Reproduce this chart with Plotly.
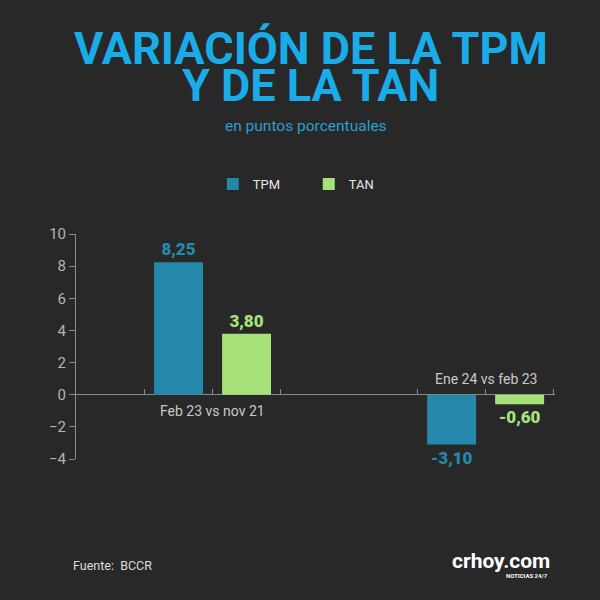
import plotly.graph_objects as go

# Data
categorias = ["Feb 23 vs nov 21", "Ene 24 vs feb 23"]
tpm = [8.25, -3.10]
tan = [3.80, -0.60]
y_ticks = [-4, -2, 0, 2, 4, 6, 8, 10]

BG = "#282828"
C_TPM = "#2588ab"
C_TAN = "#a6e17a"
TITLE_BLUE = "#19ace8"

fig = go.Figure()
fig.add_trace(go.Bar(
    name="TPM", x=categorias, y=tpm, marker_color=C_TPM, marker_line_width=0,
    texttemplate="%{y:.2f}", textposition="outside", cliponaxis=False,
    textfont=dict(family="Roboto", size=17, color=C_TPM, weight=900),
))
fig.add_trace(go.Bar(
    name="TAN", x=categorias, y=tan, marker_color=C_TAN, marker_line_width=0,
    texttemplate="%{y:.2f}", textposition="outside", cliponaxis=False,
    textfont=dict(family="Roboto", size=17, color=C_TAN, weight=900),
))

# category labels sit on the zero line, on the side opposite the bars
for cat, a, b in zip(categorias, tpm, tan):
    neg = max(a, b) < 0
    fig.add_annotation(
        x=cat, y=0, text=cat, showarrow=False,
        yanchor="bottom" if neg else "top", yshift=6 if neg else -6,
        font=dict(family="Roboto", size=14, color="#c8c8c8"),
    )

# invisible trace so the tick axis on the zero line gets drawn
fig.add_trace(go.Scatter(x=[0], y=[0], xaxis="x2", mode="markers",
                         marker=dict(opacity=0), showlegend=False, hoverinfo="skip"))

# title, two lines placed separately for tight leading
# (boxes trimmed to the empty descent / accent zone so they don't overlap)
title_font = dict(family="Roboto", size=45, color=TITLE_BLUE, weight=900)
fig.add_annotation(
    text="<b>VARIACIÓN DE LA TPM</b>", xref="paper", yref="paper",
    x=0.5, y=1, xanchor="center", yanchor="top", xshift=-5, yshift=213.5,
    showarrow=False, height=43, valign="top", borderpad=0, font=title_font,
)
fig.add_annotation(
    text="<b>Y DE LA TAN</b>", xref="paper", yref="paper",
    x=0.5, y=1, xanchor="center", yanchor="bottom", xshift=-5, yshift=121.5,
    showarrow=False, height=43, valign="bottom", borderpad=0, font=title_font,
)
fig.add_annotation(
    text="en puntos porcentuales", xref="paper", yref="paper",
    x=0.5, y=1, xanchor="center", yanchor="middle", xshift=-10, yshift=108,
    showarrow=False,
    font=dict(family="Roboto", size=15.5, color="#2a9fd2"),
)
fig.add_annotation(
    text="Fuente:  BCCR", xref="paper", yref="paper", x=0, y=0,
    xanchor="left", yanchor="middle", xshift=-5, yshift=-106, showarrow=False,
    font=dict(family="Roboto", size=12.5, color="#dddddd"),
)
fig.add_annotation(
    text="<b>crhoy.com</b>", xref="paper", yref="paper", x=1, y=0,
    xanchor="right", yanchor="middle", xshift=-3, yshift=-102, showarrow=False,
    font=dict(family="Roboto", size=21, color="#ffffff", weight=900),
)
fig.add_annotation(
    text="<b>NOTICIAS 24/7</b>", xref="paper", yref="paper", x=1, y=0,
    xanchor="right", yanchor="middle", xshift=-5, yshift=-116, showarrow=False,
    font=dict(family="Roboto", size=6, color="#ffffff"),
)

xr = [-0.5, 1.254]
fig.update_layout(
    width=600, height=600,
    paper_bgcolor=BG, plot_bgcolor=BG,
    margin=dict(l=76, r=45, t=234, b=141),
    barmode="group", bargap=0.502, bargroupgap=0.28,
    separators=",.",
    showlegend=True,
    legend=dict(orientation="h", x=0.486, xanchor="center",
                yref="container", y=1 - 184 / 600, yanchor="middle",
                entrywidth=51, traceorder="normal",
                font=dict(family="Roboto", size=13, color="#e6e6e6")),
    xaxis=dict(type="category", range=xr, showticklabels=False, showgrid=False,
               showline=False, zeroline=False, ticks=""),
    xaxis2=dict(overlaying="x", anchor="free", position=4 / 14, side="bottom",
                range=xr, tickmode="array",
                tickvals=[-0.249, 0, 0.249, 0.751, 1, 1.249],
                ticks="inside", ticklen=6, tickcolor="#8a8a8a",
                showticklabels=False, showgrid=False, showline=False, zeroline=False),
    yaxis=dict(range=[-4, 10], tickvals=y_ticks, showgrid=False,
               showline=True, linecolor="#8a8a8a", linewidth=1,
               ticks="outside", ticklen=6, tickcolor="#8a8a8a",
               zeroline=True, zerolinecolor="#8a8a8a", zerolinewidth=1,
               tickfont=dict(family="Roboto", size=15, color="#b4b4b4")),
)

fig.write_html("out.html", config={"displayModeBar": False},
               post_script="document.body.style.margin='0';")
